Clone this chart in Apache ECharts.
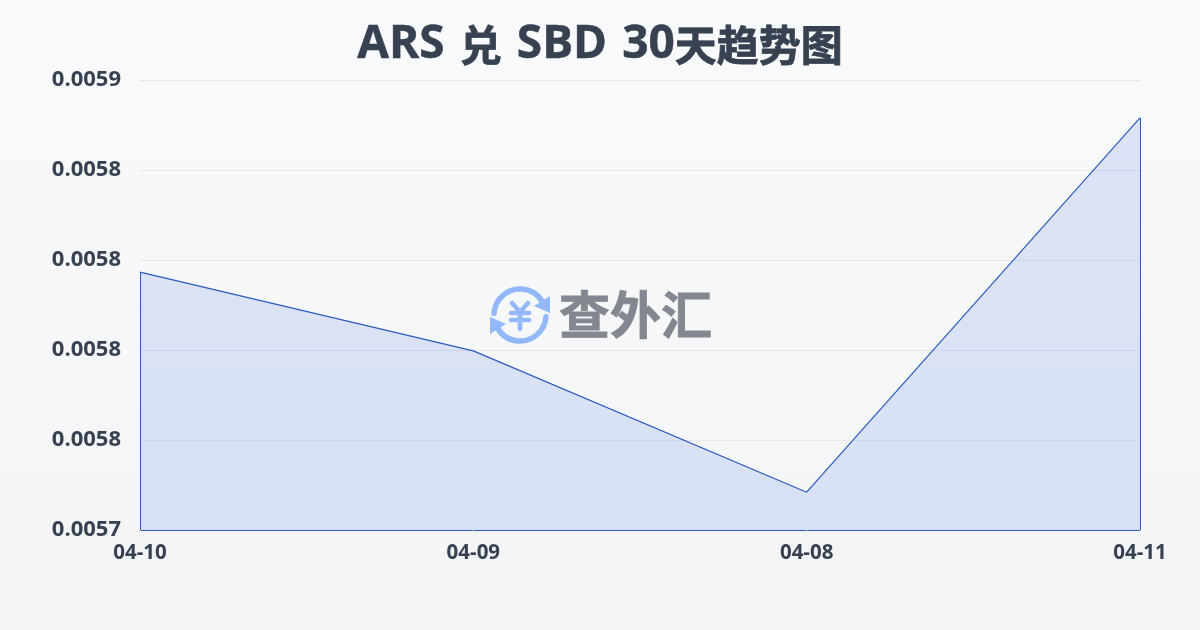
<!DOCTYPE html>
<html><head><meta charset="utf-8">
<style>html,body{margin:0;padding:0;background:#f5f6f8}#c{width:1200px;height:630px}</style>
<script src="https://cdn.jsdelivr.net/npm/echarts@6/dist/echarts.min.js"></script>
</head><body><div id="c"></div>
<script>
const titleText = '{a|ARS}{s| }{b|兑}{s| }{a|SBD}{s| }{a|30}{b|天趋势图}';
const categories = ['04-10','04-09','04-08','04-11'];
const rates = [0.0058073,0.0057898,0.0057584,0.0058416];
const yMin = 0.00575, yMax = 0.00585, yStep = 0.00002;
const yTickLabels = ['0.0057','0.0058','0.0058','0.0058','0.0058','0.0059'];
const LINE = '#2a5bc0', TEXT = '#374151', LOGO = '#93b8fa';
const FONT = '"Open Sans","Noto Sans CJK SC"';
const chart = echarts.init(document.getElementById('c'), null, {renderer:'canvas'});
const arrow = pts => ({type:'polygon',shape:{points:pts},style:{fill:LOGO}});
const seg = (a,b,c,d) => ({type:'line',shape:{x1:a,y1:b,x2:c,y2:d},style:{stroke:LOGO,lineWidth:4.5,lineCap:'round'}});
chart.setOption({
  animation:false,
  backgroundColor:new echarts.graphic.LinearGradient(0,0,0,1,[{offset:0,color:'#f9fafc'},{offset:1,color:'#f3f4f6'}]),
  title:{text:titleText,left:'center',top:11,textStyle:{fontFamily:FONT,fontWeight:'bold',fontSize:46,color:TEXT,
    rich:{
      a:{fontFamily:'"Open Sans"',fontWeight:'bold',fontSize:46,color:TEXT,textBorderColor:TEXT,textBorderWidth:0.5},
      s:{fontFamily:'"Open Sans"',fontWeight:'bold',fontSize:58,color:TEXT},
      b:{fontFamily:'"Noto Sans CJK SC"',fontWeight:'bold',fontSize:42,color:TEXT,textBorderColor:TEXT,textBorderWidth:0.8}
    }}},
  grid:{left:140,right:60,top:80,bottom:100},
  xAxis:{type:'category',data:categories,boundaryGap:false,
    axisLine:{lineStyle:{color:LINE,width:1}},
    axisTick:{show:true,length:10,lineStyle:{color:'#eceef0'}},
    axisLabel:{margin:13,color:TEXT,fontWeight:'bold',fontSize:20.5,fontFamily:FONT}},
  yAxis:{type:'value',min:yMin,max:yMax,interval:yStep,
    axisLine:{show:false},axisTick:{show:false},
    splitLine:{lineStyle:{color:'#e5e7eb',width:1}},
    axisLabel:{margin:19,color:TEXT,fontWeight:'bold',fontSize:22,fontFamily:FONT,
      formatter:(v,i)=>yTickLabels[i]}},
  series:[{type:'line',data:rates,symbol:'none',smooth:false,
    lineStyle:{color:LINE,width:1.2},
    areaStyle:{color:'rgba(50,100,220,0.2)'},
    markLine:{silent:true,symbol:'none',label:{show:false},lineStyle:{color:LINE,width:1,type:'solid'},
      data:[
        [{xAxis:categories[0],yAxis:yMin},{xAxis:categories[0],yAxis:rates[0]}],
        [{xAxis:categories[3],yAxis:yMin},{xAxis:categories[3],yAxis:rates[3]}]
      ]}
  }],
  graphic:[{type:'group',silent:true,z:100,children:[
    {type:'arc',shape:{cx:520,cy:315,r:26,startAngle:Math.PI*1.02,endAngle:Math.PI*1.83},style:{stroke:LOGO,fill:null,lineWidth:5.5,lineCap:'round'}},
    {type:'arc',shape:{cx:520,cy:315,r:26,startAngle:Math.PI*0.02,endAngle:Math.PI*0.83},style:{stroke:LOGO,fill:null,lineWidth:5.5,lineCap:'round'}},
    arrow([[550,296],[550,313],[534,306]]),
    arrow([[490,334],[490,317],[506,324]]),
    seg(512,303,520,312),seg(528,303,520,312),seg(511,313,529,313),seg(511,320,529,320),seg(520,312,520,329),
    {type:'text',style:{x:635.5,y:315,text:'查外汇',align:'center',verticalAlign:'middle',fontFamily:'"Noto Sans CJK SC"',fontWeight:'bold',fontSize:51,fill:'#83878f',stroke:'#83878f',lineWidth:0.8}}
  ]}]
});
</script></body></html>
